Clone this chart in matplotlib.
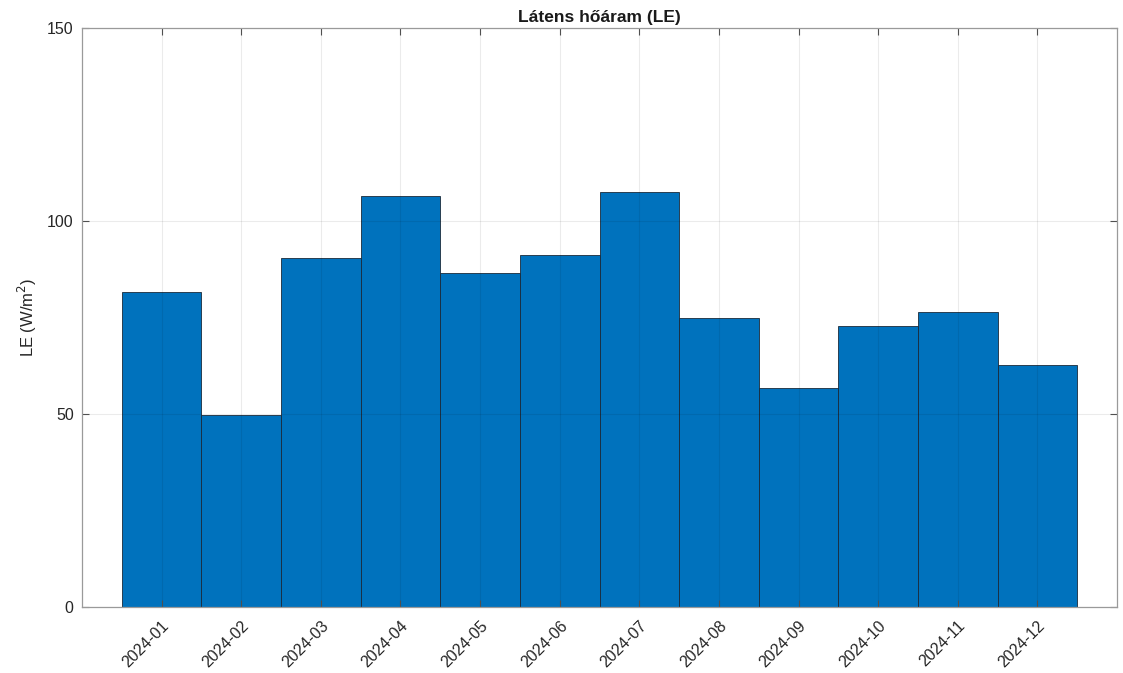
import matplotlib
matplotlib.use("Agg")
import matplotlib.pyplot as plt
import numpy as np

months = ["2024-01", "2024-02", "2024-03", "2024-04", "2024-05", "2024-06",
          "2024-07", "2024-08", "2024-09", "2024-10", "2024-11", "2024-12"]
le_values = [81.6, 49.7, 90.5, 106.6, 86.6, 91.3, 107.4, 74.9, 56.8, 72.7, 76.5, 62.7]
y_ticks = [0, 50, 100, 150]

plt.rcParams["font.family"] = ["Liberation Sans", "DejaVu Sans"]

fig = plt.figure(figsize=(11.23, 6.73), dpi=100)
ax = fig.add_axes([0.073, 0.098, 0.9217, 0.8604])

x = np.arange(1, len(months) + 1)
ax.bar(x, le_values, width=1.0, color="#0072BD", edgecolor="#1a2a3a", linewidth=0.6, zorder=1)

ax.set_xlim(0, 13)
ax.set_ylim(0, 150)
ax.set_xticks(x)
ax.set_xticklabels(months, rotation=45, ha="right", rotation_mode="anchor")
ax.set_yticks(y_ticks)

ax.grid(True, color="black", alpha=0.08, linewidth=0.8, zorder=3)
ax.set_axisbelow(False)

for s in ax.spines.values():
    s.set_color("#9a9a9a")
    s.set_linewidth(0.9)
    s.set_zorder(4)

ax.tick_params(direction="in", top=True, right=True, length=5, width=0.8,
               color="#505050", labelsize=11.5, labelcolor="#262626", pad=6)
ax.tick_params(axis="x", pad=8)

ax.set_ylabel("LE (W/m$^2$)", fontsize=12, color="#262626", labelpad=6)
ax.set_title("Látens hőáram (LE)", fontsize=12.5, fontweight="bold", color="#1a1a1a", pad=4)

fig.savefig("out.png", dpi=100)
